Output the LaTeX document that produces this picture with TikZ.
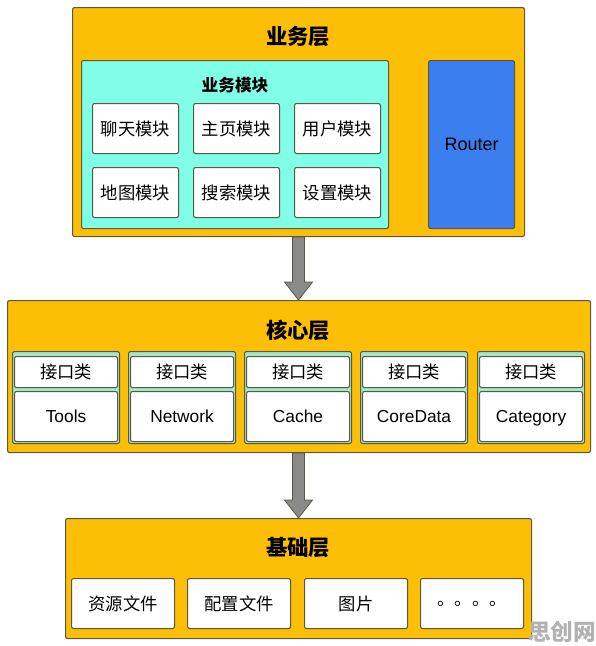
\documentclass[tikz,border=0pt]{standalone}
\usepackage{fontspec}
\setmainfont{Liberation Sans}
\newfontfamily\cjk{Noto Sans CJK SC}
\usetikzlibrary{calc}
\definecolor{layerorange}{HTML}{FDBF05}
\definecolor{modcyan}{HTML}{80FFE6}
\definecolor{routerblue}{HTML}{3B7EF0}
\definecolor{colgreen}{HTML}{A0E8C8}
\definecolor{edgegray}{HTML}{5A5648}
\definecolor{arrowgray}{HTML}{8A8A8A}
\tikzset{
  sz/.style 2 args={minimum width=#1*0.75pt, minimum height=#2*0.75pt},
  box/.style={draw=edgegray, line width=0.8pt, rounded corners=1.5pt, inner sep=0pt, anchor=north west},
  layer/.style={box, fill=layerorange},
  whitebox/.style={box, fill=white, font=\cjk\fontsize{13}{15}\selectfont},
  latinbox/.style={box, fill=white, font=\fontsize{13}{15}\selectfont, text height=9.4pt, text depth=0pt},
  colbox/.style={box, fill=colgreen},
  ttl/.style={font=\cjk\bfseries\fontsize{16}{18}\selectfont},
  subttl/.style={font=\cjk\bfseries\fontsize{12.5}{14}\selectfont},
  fatarrow/.style={fill=arrowgray, draw=edgegray, line width=0.6pt, line join=miter},
}
\begin{document}
\begin{tikzpicture}[x=0.75pt, y=-0.75pt]
\useasboundingbox (0,0) rectangle (596,646);
% top layer
\node[layer, sz={452}{229}] (top) at (72,7) {};
\node[ttl] (toptitle) at (298,37) {业务层};
\node[box, fill=modcyan, sz={307}{168}] (biz) at (81,60) {};
\node[subttl] (biztitle) at (235,85) {业务模块};
\node[whitebox, sz={86}{50}] (m1) at (92,103) {聊天模块};
\node[whitebox, sz={86}{50}] (m2) at (193,103) {主页模块};
\node[whitebox, sz={86}{50}] (m3) at (294,103) {用户模块};
\node[whitebox, sz={86}{50}] (m4) at (92,167) {地图模块};
\node[whitebox, sz={86}{50}] (m5) at (193,167) {搜索模块};
\node[whitebox, sz={86}{50}] (m6) at (294,167) {设置模块};
\node[box, fill=routerblue, sz={86}{168}, font=\fontsize{13.5}{15}\selectfont] (router) at (428,60) {Router};
% middle layer
\node[layer, sz={583}{152}] (mid) at (7,300) {};
\node[ttl] (midtitle) at (298,330) {核心层};
\foreach \x/\n/\t in {12/c1/Tools,128/c2/Network,244/c3/Cache,360/c4/CoreData,477/c5/Category}{
  \node[colbox, sz={107}{92}] (\n) at (\x,351) {};
  \node[whitebox, sz={103}{31}] (\n i) at (\x+2,356) {接口类};
  \node[latinbox, sz={103}{50}] (\n t) at (\x+2,391) {\t};
}
% bottom layer
\node[layer, sz={466}{120}] (bot) at (65,518) {};
\node[ttl] (bottitle) at (298,548) {基础层};
\node[whitebox, sz={103}{50}] (b1) at (71,578) {资源文件};
\node[whitebox, sz={103}{50}] (b2) at (187,578) {配置文件};
\node[whitebox, sz={103}{50}] (b3) at (304,578) {图片};
\node[whitebox, sz={103}{50}] (b4) at (420,578) {。。。。};
% arrows
\coordinate (a1) at (top.south |- mid.north);
\draw[fatarrow] ($(top.south)+(-6,0)$) -- ($(a1)+(-6,-18)$) -- ($(a1)+(-14,-18)$) -- (a1) -- ($(a1)+(14,-18)$) -- ($(a1)+(6,-18)$) -- ($(top.south)+(6,0)$) -- cycle;
\coordinate (a2) at (top.south |- bot.north);
\coordinate (a2s) at (top.south |- mid.south);
\draw[fatarrow] ($(a2s)+(-6,0)$) -- ($(a2)+(-6,-18)$) -- ($(a2)+(-14,-18)$) -- (a2) -- ($(a2)+(14,-18)$) -- ($(a2)+(6,-18)$) -- ($(a2s)+(6,0)$) -- cycle;
% watermark
\node[font=\cjk\bfseries\fontsize{17}{19}\selectfont, text=gray!60] (wm) at (562,632) {思创网};
\end{tikzpicture}
\end{document}
